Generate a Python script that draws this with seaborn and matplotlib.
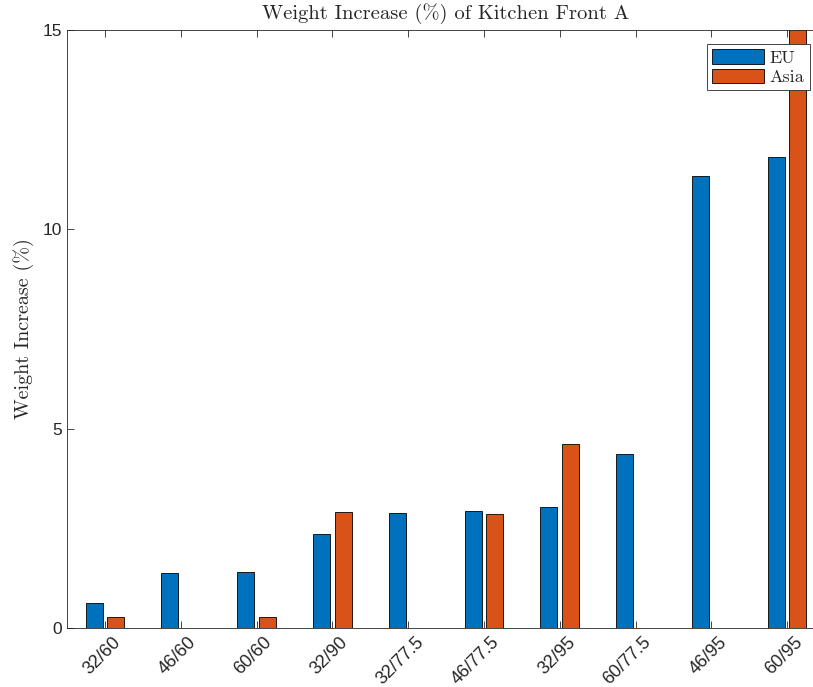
import matplotlib
matplotlib.use("Agg")
import matplotlib.pyplot as plt
import seaborn as sns
import pandas as pd

# Test conditions (temperature / humidity) and measured weight gain in percent
conditions = ["32/60", "46/60", "60/60", "32/90", "32/77.5",
              "46/77.5", "32/95", "60/77.5", "46/95", "60/95"]
eu_values = [0.63, 1.39, 1.40, 2.37, 2.89, 2.93, 3.04, 4.36, 11.35, 11.81]
asia_values = [0.28, 0.0, 0.28, 2.92, 0.0, 2.85, 4.61, 0.0, 0.0, 15.9]
regions = ["EU", "Asia"]
region_colors = ["#0072BD", "#D95319"]

df = pd.DataFrame({
    "condition": conditions * 2,
    "value": eu_values + asia_values,
    "region": [regions[0]] * len(conditions) + [regions[1]] * len(conditions),
})

sns.set_theme(style="ticks")
plt.rcParams["font.family"] = ["Liberation Sans", "DejaVu Sans"]
axis_color = "#262626"
serif = ["cmr10", "DejaVu Serif"]

fig = plt.figure(figsize=(8.13, 6.87), dpi=100)
ax = fig.add_axes([67 / 813, 1 - 628 / 687, 758 / 813, 598 / 687])

sns.barplot(data=df, x="condition", y="value", hue="region", order=conditions,
            hue_order=regions, palette=region_colors, width=0.571, gap=0.22,
            edgecolor="black", linewidth=0.6, saturation=1.0, ax=ax,
            legend=False, errorbar=None)

ax.set_xlim(-0.5, 9.5)
ax.set_ylim(0, 15)
ax.set_yticks([0, 5, 10, 15])
ax.set_xticks(range(len(conditions)))
ax.set_xticklabels(conditions, rotation=45, ha="right", rotation_mode="anchor")

for side in ["left", "right", "top", "bottom"]:
    ax.spines[side].set_visible(True)
    ax.spines[side].set_color(axis_color)
    ax.spines[side].set_linewidth(0.6)

ax.tick_params(axis="both", direction="in", top=True, right=True,
               length=5, width=0.6, color=axis_color, labelcolor=axis_color,
               labelsize=12.5)
ax.tick_params(axis="x", pad=4, labelsize=13)

# shift the rotated category labels slightly right of their ticks
offset = matplotlib.transforms.ScaledTranslation(7 / 100, 0, fig.dpi_scale_trans)
for lbl in ax.get_xticklabels():
    lbl.set_transform(lbl.get_transform() + offset)

ax.set_xlabel("")
ax.set_ylabel("Weight Increase (%)", family=serif, fontsize=14.5,
              color=axis_color, labelpad=6)
ax.set_title("Weight Increase (%) of Kitchen Front A", family=serif,
             fontsize=14.8, color=axis_color, pad=8)

handles = [matplotlib.patches.Patch(facecolor=c, edgecolor="black", linewidth=0.6)
           for c in region_colors]
leg = fig.legend(handles, regions, loc="upper right",
                 bbox_to_anchor=(810 / 813, 1 - 44 / 687),
                 prop={"family": serif, "size": 13}, frameon=True,
                 fancybox=False, framealpha=1.0, handlelength=2.9,
                 handleheight=0.85, handletextpad=0.3, borderpad=0.3,
                 labelspacing=0.15, borderaxespad=0.0)
leg.get_frame().set_edgecolor(axis_color)
leg.get_frame().set_linewidth(0.6)

fig.savefig("out.png", dpi=100)
